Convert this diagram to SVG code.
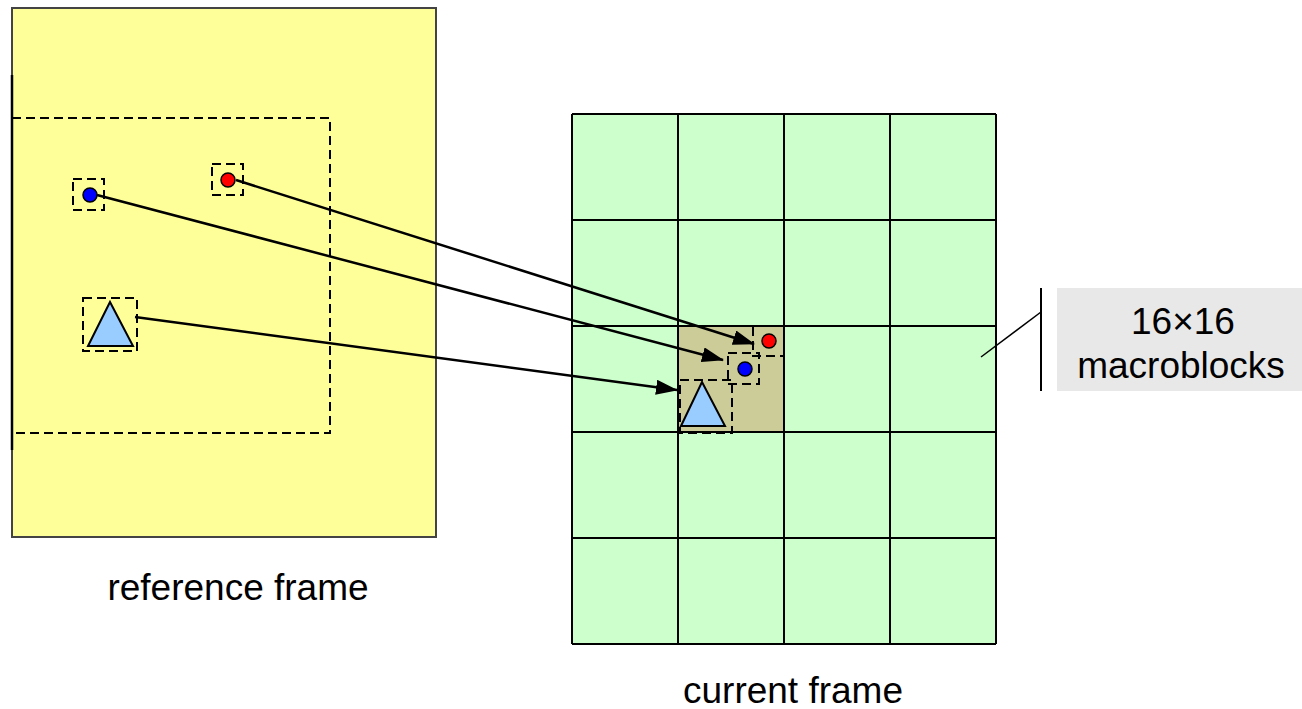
<svg xmlns="http://www.w3.org/2000/svg" width="1302" height="709" viewBox="0 0 1302 709">
<defs>
<style>
.dash{fill:none;stroke:#000;stroke-width:2;stroke-dasharray:9,5}
.grid{stroke:#000;stroke-width:2}
.conn{stroke:#000;stroke-width:2.5;fill:none;marker-end:url(#ah)}
.lbl{font-family:"Liberation Sans",Arial,sans-serif;font-size:37px;fill:#000;text-anchor:middle}
.tri{fill:#99ccff;stroke:#000;stroke-width:2}
</style>
<marker id="ah" viewBox="0 0 22 15" refX="21" refY="7.5" markerWidth="22" markerHeight="15" markerUnits="userSpaceOnUse" orient="auto">
<path d="M0,0 L22,7.5 L0,15 z" fill="#000"/>
</marker>
</defs>
<rect width="1302" height="709" fill="#fff"/>
<g id="reference-frame">
<rect x="12" y="8" width="424" height="529" fill="#ffff99" stroke="#444" stroke-width="2"/>
<line x1="12" y1="75" x2="12" y2="450" stroke="#000" stroke-width="2.5"/>
<rect class="dash" x="12" y="118" width="318" height="315"/>
<rect class="dash" x="212" y="164" width="31" height="31"/>
<circle cx="228" cy="180" r="7" fill="#ff0000" stroke="#000" stroke-width="1.5"/>
<rect class="dash" x="73" y="179" width="31" height="31"/>
<circle cx="90" cy="195" r="7" fill="#0000ff" stroke="#000" stroke-width="1.5"/>
<rect class="dash" x="83" y="298" width="54" height="53"/>
<polygon class="tri" points="88,346 110,302 133,346"/>
<text class="lbl" x="238" y="600">reference frame</text>
</g>
<g id="current-frame">
<rect x="572" y="114" width="424" height="530" fill="#ccffcc"/>
<rect x="678" y="326" width="106" height="106" fill="#cccc99"/>
<g class="grid">
<line x1="572" y1="114" x2="572" y2="644"/>
<line x1="678" y1="114" x2="678" y2="644"/>
<line x1="784" y1="114" x2="784" y2="644"/>
<line x1="890" y1="114" x2="890" y2="644"/>
<line x1="996" y1="114" x2="996" y2="644"/>
<line x1="572" y1="114" x2="996" y2="114"/>
<line x1="572" y1="220" x2="996" y2="220"/>
<line x1="572" y1="326" x2="996" y2="326"/>
<line x1="572" y1="432" x2="996" y2="432"/>
<line x1="572" y1="538" x2="996" y2="538"/>
<line x1="572" y1="644" x2="996" y2="644"/>
</g>
<rect class="dash" x="753" y="326" width="31" height="30"/>
<circle cx="769" cy="341" r="7" fill="#ff0000" stroke="#000" stroke-width="1.5"/>
<rect class="dash" x="728" y="353" width="31" height="31"/>
<circle cx="745" cy="369" r="7" fill="#0000ff" stroke="#000" stroke-width="1.5"/>
<rect class="dash" x="680" y="380" width="52" height="53"/>
<polygon class="tri" points="681,426 702,382 725,426"/>
<text class="lbl" x="793" y="703">current frame</text>
</g>
<g id="connectors">
<line class="conn" x1="236" y1="180" x2="754" y2="344"/>
<line class="conn" x1="97" y1="195" x2="723" y2="360"/>
<line class="conn" x1="135" y1="317" x2="677" y2="390"/>
</g>
<g id="macroblock-label">
<line x1="981" y1="357" x2="1041" y2="312" stroke="#000" stroke-width="1.5"/>
<line x1="1041" y1="288" x2="1041" y2="391" stroke="#000" stroke-width="2"/>
<rect x="1057" y="288" width="245" height="103" fill="#e8e8e8"/>
<text class="lbl" x="1183" y="334">16×16</text>
<text class="lbl" x="1181" y="378">macroblocks</text>
</g>
</svg>
